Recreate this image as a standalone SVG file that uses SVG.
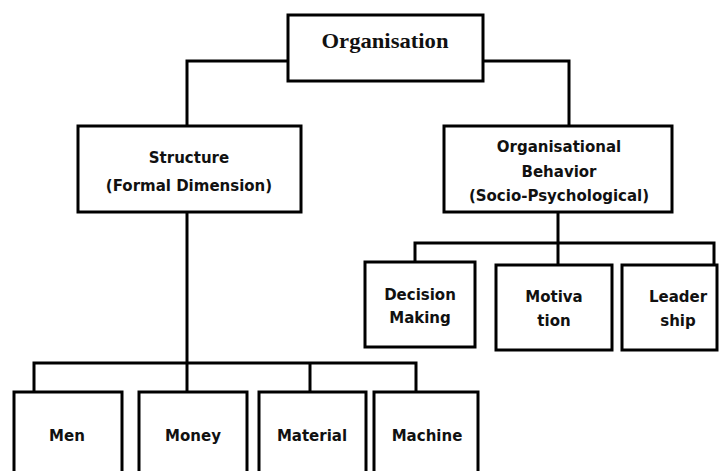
<svg xmlns="http://www.w3.org/2000/svg" width="720" height="471" viewBox="0 0 720 471">
<style>
.box{fill:#fff;stroke:#000;stroke-width:3}
.ln{fill:none;stroke:#000;stroke-width:3}
.t{font-family:"DejaVu Sans",sans-serif;font-weight:bold;font-size:15px;fill:#111;text-anchor:middle}
.s{font-family:"Liberation Serif",serif;font-weight:bold;font-size:22px;fill:#111;text-anchor:middle}
</style>
<rect width="720" height="471" fill="#fff"/>
<g id="connectors">
<path class="ln" d="M288,61 H187 V126"/>
<path class="ln" d="M483,61 H569 V126"/>
<path class="ln" d="M558,212 V265"/>
<path class="ln" d="M415,262 V243 H714 V265"/>
<path class="ln" d="M187,212 V392"/>
<path class="ln" d="M34,392 V363 H416 V392"/>
<path class="ln" d="M310,363 V392"/>
</g>
<g id="organisation"><rect class="box" x="288" y="15" width="195" height="66"/><text class="s" x="385" y="48" textLength="127" lengthAdjust="spacingAndGlyphs">Organisation</text></g>
<g id="structure"><rect class="box" x="78" y="126" width="223" height="86"/><text class="t" x="189" y="163">Structure</text><text class="t" x="189" y="191">(Formal Dimension)</text></g>
<g id="behavior"><rect class="box" x="444" y="126" width="228" height="86"/><text class="t" x="559" y="152">Organisational</text><text class="t" x="559" y="177">Behavior</text><text class="t" x="559" y="201">(Socio-Psychological)</text></g>
<g id="decision"><rect class="box" x="365" y="262" width="110" height="85"/><text class="t" x="420" y="300">Decision</text><text class="t" x="420" y="323">Making</text></g>
<g id="motivation"><rect class="box" x="496" y="265" width="116" height="85"/><text class="t" x="554" y="302">Motiva</text><text class="t" x="554" y="326">tion</text></g>
<g id="leadership"><rect class="box" x="622" y="265" width="95" height="85"/><text class="t" x="678" y="302">Leader</text><text class="t" x="678" y="326">ship</text></g>
<g id="men"><rect class="box" x="14" y="392" width="108" height="95"/><text class="t" x="67" y="441">Men</text></g>
<g id="money"><rect class="box" x="139" y="392" width="108" height="95"/><text class="t" x="193" y="441">Money</text></g>
<g id="material"><rect class="box" x="259" y="392" width="107" height="95"/><text class="t" x="312" y="441">Material</text></g>
<g id="machine"><rect class="box" x="374" y="392" width="104" height="95"/><text class="t" x="427" y="441">Machine</text></g>
</svg>
